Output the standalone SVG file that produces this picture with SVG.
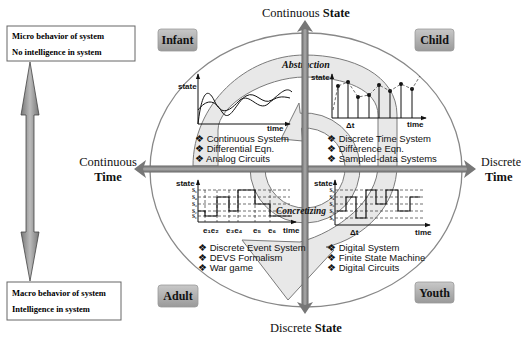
<svg xmlns="http://www.w3.org/2000/svg" width="521" height="338" viewBox="0 0 521 338">
<defs>
<style>
.bx{font-family:"Liberation Serif",serif;font-weight:bold;font-size:8.5px;fill:#000}
.q{font-family:"Liberation Serif",serif;font-weight:bold;font-size:12px;fill:#111}
.ax{font-family:"Liberation Serif",serif;font-size:12.5px;fill:#111}
.b{font-weight:bold}
.it{font-family:"Liberation Sans",Arial,sans-serif;font-size:9.5px;fill:#111}
.sm{font-family:"Liberation Sans",Arial,sans-serif;font-size:8px;font-weight:bold;fill:#111}
.ss{font-family:"Liberation Serif",serif;font-size:5.5px;font-weight:bold;fill:#111}
.lab{font-family:"Liberation Serif",serif;font-weight:bold;font-style:italic;font-size:10px;fill:#111}
.ln{stroke:#111;stroke-width:1;fill:none}
.dsh{stroke:#333;stroke-width:0.7;fill:none;stroke-dasharray:3 2}
.band{fill:#e8e8e8;stroke:#7a7a7a;stroke-width:1}
.tag{fill:url(#tg);stroke:#999;stroke-width:0.8}
</style>
<linearGradient id="tg" x1="0" y1="0" x2="0" y2="1"><stop offset="0" stop-color="#c8c8c8"/><stop offset="1" stop-color="#9a9a9a"/></linearGradient>
<linearGradient id="hb" x1="0" y1="0" x2="0" y2="1"><stop offset="0" stop-color="#666"/><stop offset="0.5" stop-color="#aaa"/><stop offset="1" stop-color="#666"/></linearGradient>
<linearGradient id="vb" x1="0" y1="0" x2="1" y2="0"><stop offset="0" stop-color="#666"/><stop offset="0.5" stop-color="#aaa"/><stop offset="1" stop-color="#666"/></linearGradient>
<linearGradient id="da" x1="0" y1="0" x2="1" y2="0"><stop offset="0" stop-color="#777"/><stop offset="0.5" stop-color="#bbb"/><stop offset="1" stop-color="#777"/></linearGradient>
<marker id="ah" viewBox="0 0 8 8" refX="7" refY="4" markerWidth="6" markerHeight="6" orient="auto"><path d="M0,1 L8,4 L0,7 z" fill="#111"/></marker>
</defs>
<rect width="521" height="338" fill="#fff"/>

<g id="micro">
<rect x="7" y="26" width="128" height="35" fill="#fff" stroke="#666" stroke-width="1"/>
<text class="bx" x="12" y="39">Micro behavior of system</text>
<text class="bx" x="12" y="55">No intelligence in system</text>
</g>
<g id="macro">
<rect x="7" y="282" width="114" height="38" fill="#fff" stroke="#666" stroke-width="1"/>
<text class="bx" x="12" y="296">Macro behavior of system</text>
<text class="bx" x="12" y="312">Intelligence in system</text>
</g>
<g id="scale-arrow">
<path d="M30,62 L39,115 L34,115 L34,232 L39,232 L30,281 L21,232 L26,232 L26,115 L21,115 Z" fill="url(#da)" stroke="#444" stroke-width="0.8"/>
</g>

<g id="frame">
<ellipse cx="306" cy="170" rx="156" ry="137" fill="#fff" stroke="#888" stroke-width="1.3"/>
</g>

<g id="abstraction">
<path class="band" d="M193,166 C193,105 245,55 305,55 C352,55 397,75 397,115 L397,165 C397,205 365,238 326,247 L334,250 L288,300 L242,240 L300,242 C338,232 378,200 378,165 L378,115 C378,90 345,77 305,77 C265,77 218,105 218,130 L218,166 Z"/>
<text class="lab" x="306" y="68" text-anchor="middle">Abstraction</text>
</g>
<g id="concretizing">
<path class="band" d="M250,168 A55,55 0 1 0 300.2,113.2 L299,103 L281,139 L302.8,141 L301.5,128.2 A40,40 0 1 1 265,168 Z"/>
</g>

<g id="axes">
<rect x="140" y="165.5" width="330" height="7" fill="url(#hb)"/>
<path d="M134,169 L146,160 L143,169 L146,178 Z" fill="#777"/>
<path d="M476,169 L464,160 L467,169 L464,178 Z" fill="#777"/>
<rect x="301.5" y="26" width="7" height="282" fill="url(#vb)"/>
<path d="M305,20 L297,32 L305,29 L313,32 Z" fill="#777"/>
<path d="M305,314 L297,302 L305,305 L313,302 Z" fill="#777"/>
</g>
<text class="lab" x="301" y="214" text-anchor="middle" style="font-size:9.5px">Concretizing</text>

<text class="ax" x="262" y="17">Continuous <tspan class="b">State</tspan></text>
<text class="ax" x="270" y="332">Discrete <tspan class="b">State</tspan></text>
<text class="ax" x="108" y="166" text-anchor="middle">Continuous</text>
<text class="ax b" x="108" y="181" text-anchor="middle">Time</text>
<text class="ax" x="481" y="166" style="font-size:12px">Discrete</text>
<text class="ax b" x="485" y="181">Time</text>

<g id="infant"><rect class="tag" x="158" y="29" width="39" height="22" rx="3"/><text class="q" x="177.5" y="44" text-anchor="middle">Infant</text></g>
<g id="child"><rect class="tag" x="415" y="29" width="39" height="22" rx="3"/><text class="q" x="434.5" y="44" text-anchor="middle">Child</text></g>
<g id="adult"><rect class="tag" x="158" y="285" width="40" height="22" rx="3"/><text class="q" x="178" y="300" text-anchor="middle">Adult</text></g>
<g id="youth"><rect class="tag" x="415" y="282" width="39" height="21" rx="3"/><text class="q" x="434.5" y="297" text-anchor="middle">Youth</text></g>

<g id="q-continuous">
<line class="ln" x1="198" y1="124" x2="198" y2="74" marker-end="url(#ah)"/>
<line class="ln" x1="198" y1="124" x2="290" y2="124" marker-end="url(#ah)"/>
<text class="sm" x="178" y="89">state</text>
<text class="sm" x="267" y="131">time</text>
<path class="ln" d="M198,124 C202,90 208,88 214,100 C222,118 230,110 240,100 C250,92 258,112 268,104 C276,96 282,96 290,98"/>
<path class="ln" d="M198,110 C206,100 214,98 222,112 C230,124 236,102 246,96 C256,90 262,106 272,100 C280,94 286,86 292,92"/>
<text class="it" x="195" y="142">❖ Continuous System</text>
<text class="it" x="195" y="152">❖ Differential Eqn.</text>
<text class="it" x="195" y="162">❖ Analog Circuits</text>
</g>

<g id="q-discrete-time">
<line class="ln" x1="332" y1="118" x2="332" y2="74" marker-end="url(#ah)"/>
<line class="ln" x1="332" y1="118" x2="426" y2="118" marker-end="url(#ah)"/>
<text class="sm" x="311" y="80">state</text>
<text class="sm" x="407" y="127">time</text>
<text class="sm" x="346" y="128">Δt</text>
<g class="ln">
<line x1="338" y1="118" x2="338" y2="86"/><line x1="348" y1="118" x2="348" y2="82"/><line x1="358" y1="118" x2="358" y2="97"/>
<line x1="369" y1="118" x2="369" y2="95"/><line x1="379" y1="118" x2="379" y2="85"/><line x1="390" y1="118" x2="390" y2="91"/>
<line x1="401" y1="118" x2="401" y2="84"/><line x1="412" y1="118" x2="412" y2="89"/>
</g>
<g fill="#111">
<circle cx="338" cy="86" r="2"/><circle cx="348" cy="82" r="2"/><circle cx="358" cy="97" r="2"/><circle cx="369" cy="95" r="2"/>
<circle cx="379" cy="85" r="2"/><circle cx="390" cy="91" r="2"/><circle cx="401" cy="84" r="2"/><circle cx="412" cy="89" r="2"/>
</g>
<path class="dsh" d="M333,110 L338,86 L348,82 L358,97 L369,95 L379,85 L390,91 L401,84 L412,89 L420,76"/>
<text class="it" x="327" y="142">❖ Discrete Time System</text>
<text class="it" x="327" y="152">❖ Difference Eqn.</text>
<text class="it" x="327" y="162">❖ Sampled-data Systems</text>
</g>

<g id="q-discrete-event">
<line class="ln" x1="198" y1="222" x2="198" y2="180" marker-end="url(#ah)"/>
<line class="ln" x1="198" y1="222" x2="296" y2="222" marker-end="url(#ah)"/>
<text class="sm" x="176" y="186">state</text>
<text class="sm" x="283" y="233">time</text>
<text class="ss" x="192" y="192">S₅</text><text class="ss" x="192" y="199">S₄</text><text class="ss" x="192" y="206">S₃</text><text class="ss" x="192" y="213">S₂</text><text class="ss" x="192" y="218">S₁</text>
<path class="dsh" d="M198,190 H290 M198,197 H290 M198,204 H290 M198,211 H290 M198,216 H290"/>
<path class="dsh" d="M205,190 V222 M217,190 V222 M229,190 V222 M238,190 V222 M255,190 V222 M270,190 V222"/>
<path class="ln" style="stroke-width:1.2" d="M198,211 H205 V216 H217 V197 H229 V211 H238 V190 H255 V204 H270 V216 H292"/>
<text class="sm" x="203" y="233">e₁e₂</text>
<text class="sm" x="226" y="233">e₃e₄</text>
<text class="sm" x="253" y="233">e₅</text>
<text class="sm" x="268" y="233">e₆</text>
<text class="it" x="198" y="251">❖ Discrete Event System</text>
<text class="it" x="198" y="261">❖ DEVS Formalism</text>
<text class="it" x="198" y="271">❖ War game</text>
</g>

<g id="q-digital">
<line class="ln" x1="335" y1="225" x2="335" y2="180" marker-end="url(#ah)"/>
<line class="ln" x1="335" y1="225" x2="430" y2="225" marker-end="url(#ah)"/>
<text class="sm" x="314" y="186">state</text>
<text class="sm" x="415" y="235">time</text>
<text class="sm" x="350" y="235">Δt</text>
<text class="ss" x="329.5" y="192">S₅</text><text class="ss" x="329.5" y="199">S₄</text><text class="ss" x="329.5" y="206">S₃</text><text class="ss" x="329.5" y="213">S₂</text><text class="ss" x="329.5" y="220">S₁</text>
<path class="dsh" d="M335,190 H425 M335,197 H425 M335,204 H425 M335,211 H425 M335,218 H425"/>
<path class="ln" style="stroke-width:1.2" d="M337,211 H346 V197 H356 V218 H366 V190 H376 V204 H386 V190 H398 V211 H410 V197 H420"/>
<text class="it" x="327" y="251">❖ Digital System</text>
<text class="it" x="327" y="261">❖ Finite State Machine</text>
<text class="it" x="327" y="271">❖ Digital Circuits</text>
</g>
</svg>
